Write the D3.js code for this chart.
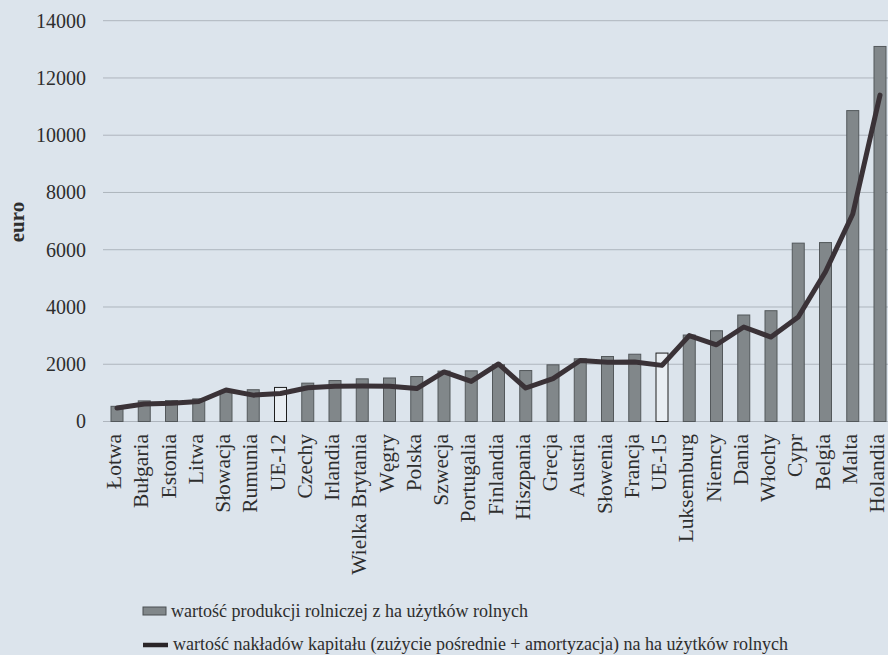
<!DOCTYPE html>
<html>
<head>
<meta charset="utf-8">
<script src="https://cdn.jsdelivr.net/npm/d3@7"></script>
<style>
  html, body { margin: 0; padding: 0; background: #dce4ec; }
  svg { display: block; }
  text { font-family: "Liberation Serif", "Times New Roman", serif; fill: #2e2e2e; }
</style>
</head>
<body>
<script>
const categories = ["Łotwa","Bułgaria","Estonia","Litwa","Słowacja","Rumunia","UE-12","Czechy","Irlandia","Wielka Brytania","Węgry","Polska","Szwecja","Portugalia","Finlandia","Hiszpania","Grecja","Austria","Słowenia","Francja","UE-15","Luksemburg","Niemcy","Dania","Włochy","Cypr","Belgia","Malta","Holandia"];
const production = [530,720,730,790,1070,1110,1190,1340,1430,1490,1520,1570,1760,1770,1980,1780,1980,2190,2270,2350,2390,3020,3170,3720,3870,6230,6250,10860,13100];
const capital = [470,610,640,700,1100,920,980,1180,1230,1240,1230,1150,1730,1400,2010,1170,1500,2130,2070,2080,1960,3000,2680,3300,2950,3650,5230,7250,11400];
const aggregates = ["UE-12","UE-15"];
const yTicks = [0,2000,4000,6000,8000,10000,12000,14000];
const yTitle = "euro";
const legendLabels = [
  "wartość produkcji rolniczej z ha użytków rolnych",
  "wartość nakładów kapitału (zużycie pośrednie + amortyzacja) na ha użytków rolnych"
];

const W = 888, H = 655;
const svg = d3.select("body").append("svg").attr("width", W).attr("height", H);
svg.append("rect").attr("width", W).attr("height", H).attr("fill", "#dce4ec");

const y = d3.scaleLinear().domain([0, 14000]).range([421.5, 20.7]);
const x = d3.scalePoint().domain(categories).range([117, 880]);
const barW = 12;

// gridlines
svg.append("g").selectAll("line").data(yTicks).join("line")
  .attr("x1", 103).attr("x2", 888)
  .attr("y1", d => y(d)).attr("y2", d => y(d))
  .attr("stroke", "#aeb5bd").attr("stroke-width", 1);

// y axis labels
const yAxis = svg.append("g").attr("transform", "translate(103,0)")
  .call(d3.axisLeft(y).tickValues(yTicks).tickSize(0).tickPadding(17).tickFormat(d3.format("d")));
yAxis.select(".domain").remove();
yAxis.selectAll("text").style("font-family", "'Liberation Serif', serif").style("font-size", "20px").attr("fill", "#333");

// y title
svg.append("text").attr("transform", "translate(24,222) rotate(-90)")
  .attr("text-anchor", "middle").style("font-size", "21px").style("font-weight", "bold")
  .attr("fill", "#333").text(yTitle);

// bars
svg.append("g").selectAll("rect").data(categories).join("rect")
  .attr("x", d => x(d) - barW / 2)
  .attr("width", barW)
  .attr("y", (d, i) => y(production[i]))
  .attr("height", (d, i) => y(0) - y(production[i]))
  .attr("fill", d => aggregates.includes(d) ? "#e9eef3" : "#81878a")
  .attr("stroke", d => aggregates.includes(d) ? "#1e1e1e" : "#53585b")
  .attr("stroke-width", 1);

// line
const line = d3.line().x((d, i) => x(categories[i])).y(d => y(d));
svg.append("path").datum(capital).attr("d", line)
  .attr("fill", "none").attr("stroke", "#3a3237").attr("stroke-width", 5)
  .attr("stroke-linejoin", "round").attr("stroke-linecap", "round");

// x labels
svg.append("g").selectAll("text").data(categories).join("text")
  .attr("transform", d => `translate(${x(d) + 4},434) rotate(-90)`)
  .attr("text-anchor", "end")
  .style("font-size", "21.5px")
  .attr("fill", "#333")
  .text(d => d);

// legend
const lg = svg.append("g");
lg.append("rect").attr("x", 143).attr("y", 607).attr("width", 23).attr("height", 8)
  .attr("fill", "#81878a").attr("stroke", "#4a4f52").attr("stroke-width", 1);
lg.append("text").attr("x", 171).attr("y", 617).style("font-size", "18px").attr("fill", "#333").text(legendLabels[0]);
lg.append("line").attr("x1", 143).attr("x2", 168).attr("y1", 645).attr("y2", 645)
  .attr("stroke", "#2a2528").attr("stroke-width", 4.5);
lg.append("text").attr("x", 173).attr("y", 650).style("font-size", "18px").attr("fill", "#333").text(legendLabels[1]);
</script>
</body>
</html>
